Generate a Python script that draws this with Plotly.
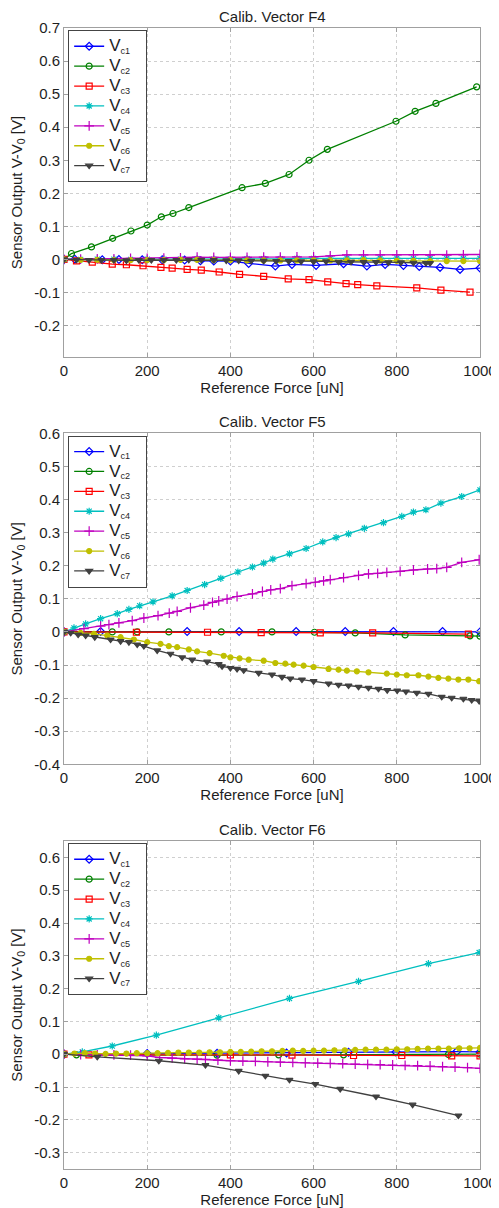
import plotly.graph_objects as go

# ---------------- data ----------------
series_names = ["V<sub>c1</sub>", "V<sub>c2</sub>", "V<sub>c3</sub>", "V<sub>c4</sub>",
                "V<sub>c5</sub>", "V<sub>c6</sub>", "V<sub>c7</sub>"]
panel_titles = ["Calib. Vector F4", "Calib. Vector F5", "Calib. Vector F6"]

x_ticks = [0, 200, 400, 600, 800, 1000]
x_ticklabels = ["0", "200", "400", "600", "800", "1000"]

y_ticks_f4 = [-0.2, -0.1, 0, 0.1, 0.2, 0.3, 0.4, 0.5, 0.6, 0.7]
y_ticklabels_f4 = ["-0.2", "-0.1", "0", "0.1", "0.2", "0.3", "0.4", "0.5", "0.6", "0.7"]
y_ticks_f5 = [-0.4, -0.3, -0.2, -0.1, 0, 0.1, 0.2, 0.3, 0.4, 0.5, 0.6]
y_ticklabels_f5 = ["-0.4", "-0.3", "-0.2", "-0.1", "0", "0.1", "0.2", "0.3", "0.4", "0.5", "0.6"]
y_ticks_f6 = [-0.3, -0.2, -0.1, 0, 0.1, 0.2, 0.3, 0.4, 0.5, 0.6]
y_ticklabels_f6 = ["-0.3", "-0.2", "-0.1", "0", "0.1", "0.2", "0.3", "0.4", "0.5", "0.6"]

# ---- Calib. Vector F4 ----
f4_c1_x = [0, 26, 92, 132, 188, 236, 290, 328, 360, 400, 444, 508, 548, 606, 672, 728, 772, 816, 854, 904, 952, 1000]
f4_c1_y = [0, 0.001, -0.001, 0, -0.001, -0.001, -0.002, -0.004, -0.005, -0.005, -0.012, -0.020, -0.015,
           -0.018, -0.013, -0.020, -0.015, -0.018, -0.021, -0.024, -0.030, -0.026]
f4_c2_x = [0, 18, 66, 117, 161, 200, 234, 262, 300, 428, 484, 541, 589, 633, 798, 844, 894, 992]
f4_c2_y = [0, 0.018, 0.038, 0.064, 0.086, 0.104, 0.129, 0.139, 0.157, 0.217, 0.230, 0.257, 0.300,
           0.333, 0.418, 0.448, 0.472, 0.522]
f4_c3_x = [0, 30, 68, 116, 150, 190, 233, 260, 296, 330, 373, 422, 480, 539, 589, 634, 678, 706, 752, 848, 906, 976]
f4_c3_y = [0, -0.004, -0.008, -0.014, -0.016, -0.019, -0.024, -0.026, -0.030, -0.032, -0.038, -0.045,
           -0.051, -0.059, -0.061, -0.068, -0.073, -0.076, -0.080, -0.086, -0.093, -0.099]
f4_c4_x = [0, 40, 80, 120, 160, 200, 240, 280, 320, 360, 400, 440, 480, 520, 560, 600, 640, 680, 720, 760,
           800, 840, 880, 920, 960, 1000]
f4_c4_y = [0, 0, 0.001, 0.001, 0, 0.001, 0.001, 0.001, 0.002, 0.001, 0.001, 0.002, 0.002, 0.002, 0.003,
           0.003, 0.003, 0.004, 0.004, 0.004, 0.004, 0.003, 0.003, 0.003, 0.003, 0.003]
f4_c5_x = [0, 40, 80, 120, 160, 200, 240, 280, 320, 360, 400, 440, 480, 520, 560, 600, 640, 680, 720, 760,
           800, 840, 880, 920, 960, 1000]
f4_c5_y = [0, 0.001, 0.002, 0.002, 0.003, 0.003, 0.004, 0.005, 0.007, 0.006, 0.006, 0.006, 0.007, 0.007,
           0.008, 0.008, 0.011, 0.014, 0.014, 0.014, 0.014, 0.014, 0.013, 0.013, 0.014, 0.015]
f4_c6_x = [0, 40, 80, 120, 160, 200, 240, 280, 320, 360, 400, 440, 480, 520, 560, 600, 640, 680, 720, 760,
           800, 840, 880, 920, 960, 1000]
f4_c6_y = [0, -0.001, -0.001, -0.002, -0.002, -0.002, -0.002, -0.001, -0.001, -0.002, -0.002, -0.003,
           -0.003, -0.003, -0.003, -0.003, -0.003, -0.003, -0.002, -0.003, -0.004, -0.004, -0.005, -0.005,
           -0.005, -0.005]
f4_c7_x = [0, 30, 60, 90, 120, 150, 180, 210, 240, 270, 300, 330, 360, 390, 420, 450, 480, 510, 540, 570,
           600, 630, 660, 690, 720, 750, 780, 810, 840, 870, 880]
f4_c7_y = [0, -0.001, -0.002, -0.002, -0.002, -0.003, -0.002, -0.002, -0.002, -0.002, -0.001, -0.001,
           -0.002, -0.003, -0.003, -0.004, -0.004, -0.005, -0.005, -0.006, -0.006, -0.006, -0.007, -0.007,
           -0.008, -0.008, -0.009, -0.009, -0.010, -0.011, -0.011]

# ---- Calib. Vector F5 ----
f5_c1_x = [0, 88, 296, 421, 558, 676, 792, 910, 1000]
f5_c1_y = [0, 0.001, 0.001, 0.001, 0.001, 0.001, 0.001, 0.001, 0.0]
f5_c2_x = [0, 116, 176, 252, 378, 500, 602, 700, 820, 976, 1000]
f5_c2_y = [0, 0, 0, 0, 0, 0, -0.001, -0.003, -0.009, -0.012, -0.013]
f5_c3_x = [0, 174, 345, 474, 616, 742, 972]
f5_c3_y = [0, -0.001, -0.001, -0.002, -0.003, -0.003, -0.007]
f5_c4_x = [0, 24, 52, 88, 128, 156, 182, 214, 260, 296, 338, 377, 418, 453, 480, 502, 542, 582, 622, 654,
           684, 722, 768, 812, 840, 870, 906, 956, 1000]
f5_c4_y = [0, 0.012, 0.024, 0.040, 0.055, 0.068, 0.079, 0.091, 0.109, 0.125, 0.143, 0.162, 0.181, 0.196,
           0.208, 0.220, 0.236, 0.252, 0.272, 0.285, 0.296, 0.313, 0.330, 0.349, 0.362, 0.369, 0.389,
           0.409, 0.429]
f5_c5_x = [0, 48, 88, 108, 132, 164, 192, 226, 253, 272, 304, 336, 357, 372, 392, 416, 453, 477, 497, 520,
           548, 582, 604, 624, 640, 672, 708, 732, 754, 776, 808, 840, 874, 896, 920, 956, 998]
f5_c5_y = [0, 0.010, 0.017, 0.022, 0.027, 0.034, 0.042, 0.049, 0.057, 0.062, 0.073, 0.081, 0.089, 0.094,
           0.099, 0.107, 0.115, 0.122, 0.127, 0.131, 0.140, 0.146, 0.150, 0.154, 0.158, 0.164, 0.171,
           0.175, 0.177, 0.180, 0.183, 0.187, 0.190, 0.191, 0.195, 0.210, 0.218]
f5_c6_x = [0, 40, 72, 104, 136, 168, 200, 232, 252, 272, 300, 320, 350, 384, 400, 422, 444, 480, 508,
           532, 552, 576, 600, 636, 660, 680, 704, 732, 776, 800, 824, 852, 876, 900, 924, 948, 972, 998]
f5_c6_y = [0, -0.003, -0.006, -0.011, -0.016, -0.023, -0.031, -0.036, -0.043, -0.046, -0.053, -0.059,
           -0.064, -0.072, -0.077, -0.080, -0.084, -0.087, -0.094, -0.096, -0.099, -0.102, -0.106,
           -0.112, -0.114, -0.117, -0.119, -0.122, -0.126, -0.129, -0.131, -0.131, -0.135, -0.139,
           -0.141, -0.144, -0.144, -0.149]
f5_c7_x = [0, 16, 34, 52, 74, 112, 136, 156, 176, 192, 224, 256, 284, 308, 344, 372, 380, 400, 416, 432,
           468, 500, 524, 544, 572, 600, 636, 660, 684, 708, 732, 756, 777, 801, 822, 848, 876, 908, 932,
           960, 980, 998]
f5_c7_y = [0, -0.003, -0.008, -0.011, -0.016, -0.023, -0.028, -0.031, -0.038, -0.043, -0.056, -0.066,
           -0.077, -0.084, -0.090, -0.097, -0.104, -0.109, -0.112, -0.116, -0.124, -0.129, -0.136,
           -0.141, -0.144, -0.149, -0.156, -0.160, -0.162, -0.166, -0.169, -0.172, -0.176, -0.177,
           -0.180, -0.184, -0.187, -0.196, -0.199, -0.202, -0.206, -0.209]

# ---- Calib. Vector F6 ----
f6_c1_x = [0, 200, 368, 535, 684, 798, 944, 1000]
f6_c1_y = [0, 0.002, 0.003, 0.004, 0.006, 0.007, 0.008, 0.007]
f6_c2_x = [0, 30, 368, 516, 672, 924, 1000]
f6_c2_y = [0, -0.002, -0.003, -0.002, -0.002, -0.001, 0.0]
f6_c3_x = [0, 60, 400, 548, 696, 812, 932, 1000]
f6_c3_y = [0, -0.002, -0.002, -0.003, -0.004, -0.004, -0.005, -0.005]
f6_c4_x = [0, 44, 116, 222, 372, 542, 708, 876, 998]
f6_c4_y = [0, 0.007, 0.025, 0.058, 0.111, 0.170, 0.222, 0.276, 0.310]
f6_c5_x = [0, 40, 80, 120, 160, 200, 230, 260, 290, 320, 340, 370, 400, 430, 460, 490, 520, 550, 580,
           610, 640, 670, 700, 730, 760, 790, 820, 850, 880, 910, 940, 970, 1000]
f6_c5_y = [0, -0.001, -0.002, -0.002, -0.003, -0.005, -0.010, -0.012, -0.014, -0.015, -0.016, -0.018,
           -0.020, -0.021, -0.022, -0.023, -0.024, -0.025, -0.026, -0.027, -0.028, -0.029, -0.030,
           -0.031, -0.032, -0.033, -0.034, -0.035, -0.036, -0.038, -0.039, -0.041, -0.043]
f6_c6_x = [0, 25, 50, 75, 100, 125, 150, 175, 200, 225, 250, 275, 300, 325, 350, 375, 400, 425, 450, 475,
           500, 525, 550, 575, 600, 625, 650, 675, 700, 725, 750, 775, 800, 825, 850, 875, 900, 925, 950,
           975, 1000]
f6_c6_y = [0, 0.002, 0.003, 0.002, 0.001, 0.002, 0.002, 0.003, 0.003, 0.003, 0.004, 0.005, 0.005, 0.005,
           0.006, 0.006, 0.007, 0.007, 0.008, 0.009, 0.009, 0.010, 0.011, 0.010, 0.011, 0.011, 0.012,
           0.012, 0.013, 0.014, 0.014, 0.014, 0.015, 0.015, 0.016, 0.017, 0.017, 0.017, 0.018, 0.018, 0.019]
f6_c7_x = [0, 80, 228, 340, 420, 484, 542, 604, 664, 750, 838, 948]
f6_c7_y = [0, -0.008, -0.020, -0.033, -0.051, -0.066, -0.078, -0.091, -0.106, -0.129, -0.154, -0.187]

# ---------------- styling ----------------
colors = ["#0000FF", "#008000", "#FF0000", "#00BFBF", "#BF00BF", "#BFBF00", "#404040"]
symbols = ["diamond-open", "circle-open", "square-open", "asterisk-open", "cross-thin-open",
           "circle", "triangle-down"]
msizes = [6, 6, 6, 6, 7, 5, 6]

panels = [
    dict(data=[(f4_c1_x, f4_c1_y), (f4_c2_x, f4_c2_y), (f4_c3_x, f4_c3_y), (f4_c4_x, f4_c4_y),
               (f4_c5_x, f4_c5_y), (f4_c6_x, f4_c6_y), (f4_c7_x, f4_c7_y)],
         yr=[-0.295, 0.7], yt=y_ticks_f4, ytl=y_ticklabels_f4),
    dict(data=[(f5_c1_x, f5_c1_y), (f5_c2_x, f5_c2_y), (f5_c3_x, f5_c3_y), (f5_c4_x, f5_c4_y),
               (f5_c5_x, f5_c5_y), (f5_c6_x, f5_c6_y), (f5_c7_x, f5_c7_y)],
         yr=[-0.4, 0.6], yt=y_ticks_f5, ytl=y_ticklabels_f5),
    dict(data=[(f6_c1_x, f6_c1_y), (f6_c2_x, f6_c2_y), (f6_c3_x, f6_c3_y), (f6_c4_x, f6_c4_y),
               (f6_c5_x, f6_c5_y), (f6_c6_x, f6_c6_y), (f6_c7_x, f6_c7_y)],
         yr=[-0.35, 0.65], yt=y_ticks_f6, ytl=y_ticklabels_f6),
]

# The page body has an 8px margin, so the figure is drawn from (8, 8).
OFF = 8
W, H = 499 - OFF, 1208 - OFF
ML, MR, MT, MB = 64 - OFF, 19, 28 - OFF, 39
PH = H - MT - MB


def frac(ypx):
    # ypx: pixel position in the page (reference) coordinates
    return min(1.0, max(0.0, 1 - (ypx - OFF - MT) / PH))


# pixel extents of each plot area in page coordinates (top, bottom)
areas = [(28, 357), (433.3, 764.3), (841, 1169)]

FONT = "Liberation Sans, Arial, sans-serif"
TXT = "#1e1e1e"
fig = go.Figure()
layout = dict(
    width=W, height=H,
    margin=dict(l=ML, r=MR, t=MT, b=MB),
    paper_bgcolor="white", plot_bgcolor="white",
    font=dict(family=FONT, color=TXT, size=15),
    showlegend=True,
    annotations=[],
)

for i, p in enumerate(panels):
    sfx = "" if i == 0 else str(i + 1)
    lg = "legend" + sfx
    for j, (xs, ys) in enumerate(p["data"]):
        fig.add_trace(go.Scatter(
            x=xs, y=ys,
            name="<span style='font-size:17px'>V</span><sub>c%d</sub>&nbsp;&nbsp;&nbsp;" % (j + 1),
            mode="lines+markers",
            line=dict(color=colors[j], width=1.3),
            marker=dict(symbol=symbols[j], size=msizes[j], color=colors[j],
                        line=dict(color=colors[j], width=1.2)),
            xaxis="x" + sfx, yaxis="y" + sfx, legend=lg,
        ))
    top, bot = areas[i]
    dom = [frac(bot), frac(top)]
    layout["xaxis" + sfx] = dict(
        domain=[0, 1], anchor="y" + sfx, range=[0, 1000], automargin=False,
        tickvals=x_ticks, ticktext=x_ticklabels,
        showgrid=True, gridcolor="#cfcfcf", griddash="dot", gridwidth=1,
        showline=True, linecolor="#a0a0a0", linewidth=1, mirror="ticks",
        ticks="inside", ticklen=4, tickcolor="#a0a0a0",
        zeroline=False, tickfont=dict(size=15),
        title=dict(text="Reference Force [uN]", font=dict(size=15), standoff=1),
    )
    layout["yaxis" + sfx] = dict(
        domain=dom, anchor="x" + sfx, range=p["yr"], automargin=False,
        tickvals=p["yt"], ticktext=p["ytl"],
        showgrid=True, gridcolor="#cfcfcf", griddash="dot", gridwidth=1,
        showline=True, linecolor="#a0a0a0", linewidth=1, mirror="ticks",
        ticks="inside", ticklen=4, tickcolor="#a0a0a0",
        zeroline=False, tickfont=dict(size=15),
        title=dict(text="Sensor Output V-V<sub>0</sub> [V]", font=dict(size=15), standoff=9),
    )
    layout[lg] = dict(
        x=0.01, y=dom[1] - 0.002, xanchor="left", yanchor="top",
        bgcolor="white", bordercolor="#444444", borderwidth=1,
        font=dict(size=13, family=FONT, color=TXT),
        tracegroupgap=0, itemwidth=30,
    )
    layout["annotations"].append(dict(
        text=panel_titles[i], xref="paper", yref="paper", x=0.5, y=dom[1],
        xanchor="center", yanchor="bottom", yshift=1, showarrow=False,
        font=dict(size=15, family=FONT, color=TXT),
    ))

fig.update_layout(**layout)
fig.write_html("out.html")
